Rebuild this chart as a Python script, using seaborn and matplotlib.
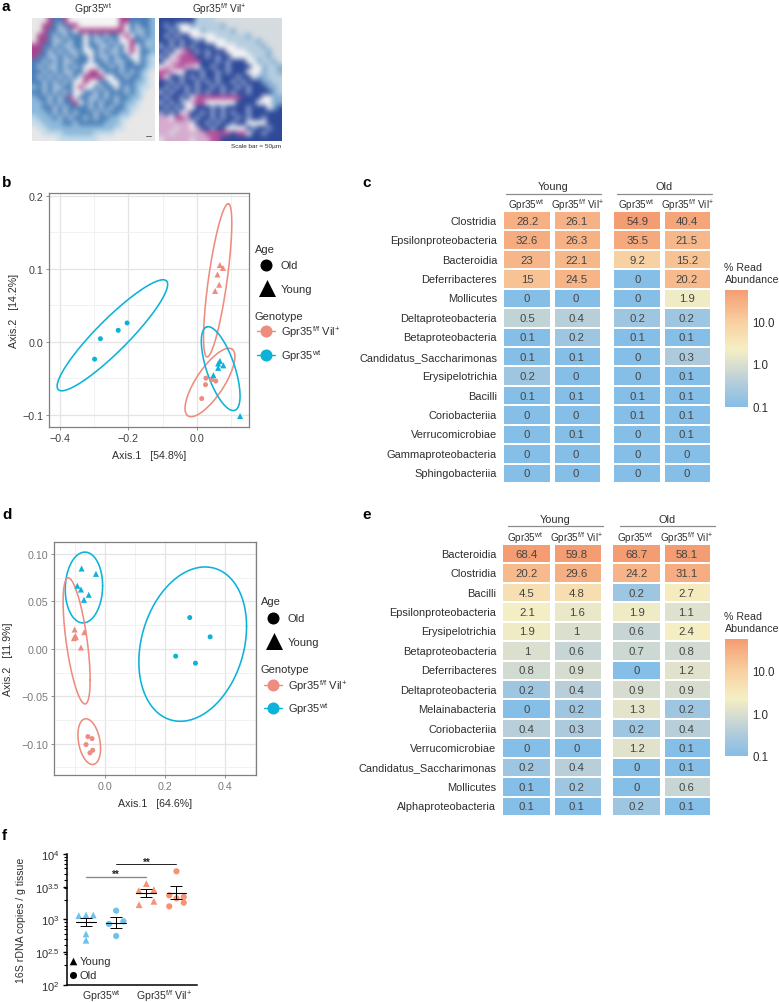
import numpy as np, pandas as pd
import matplotlib
matplotlib.use("Agg")
import matplotlib.pyplot as plt
from matplotlib.colors import LinearSegmentedColormap, LogNorm
from matplotlib.ticker import LogLocator, NullFormatter
import seaborn as sns

sns.set_theme(style="white")
plt.rcParams['font.family'] = ['Liberation Sans', 'DejaVu Sans']
plt.rcParams['mathtext.default'] = 'regular'

W, H = 779, 1003
WT = "Gpr35$^{wt}$"
FF = "Gpr35$^{f/f}$ Vil$^{+}$"
RED, BLUE = "#EE8C80", "#0BB2DA"
TXT = "#2E2E2E"

# ---- panel a: tone maps of the two micrographs
img_wt = """WWWPBBPwwwwwwwwwwPPBBBBL
WWPPBCBPPwwwwwwwwPwBCBBL
WWPBBCCBwPPPPPPPPPwBCCBL
WPPBCBCBBBwBCBCBBwPwBCBL
WPPBCCBCBBwBCCBCBwwPBBCL
PPBBCBCCBBwBBCCBCBwPwBCL
PPBCBCBCCBwwBCBCCBwPwBBL
PBBCCBCBCBBwBCCBCBBwwBLS
BBCBCBCCBBBwBBCBCCBBwBLS
BCBCCBCBCBwwwBBCBCBBBBLS
BBCBCBCCBBwPPwBBBCBCBLSW
BCBCBCBCBwPPPPwwBBCBBLSW
BBCBCBCBwwPwwBBwwBBBLLSW
LBCBCCBBwPwwBCBBwBCBLSSW
BBCBCBCBwwBBCBCBBBCBLSWW
LBBCBCBPwBBCCBCBCBBLLSWW
LLBCBCBBPwBCBCBBCBLLSWWW
LLBBCBCBBBBCBCBCBBLSSWWW
LLLBCBCBCBBBCBCBBLLSWWWW
SLLLBCBCBBCBCBBLLSSWWWWW
SSLLLLBBCBBBBBLLLSWWWWWW
WSSLLLLLLLLLLLLLSSWWWWWW
WWSSSSLLLLLLSSSSWWWWWWWW
WWWWWSSSSSSSSWWWWWWWWWWW"""
img_ko = """DDDDDDDSSSSGGGGGGGGGGGGG
DCDLwwLSSSSSLGGGGGGGGGGG
DDCDwwwwLSSSSSLGGGGGGGGG
DCDCDDwwwwwSSSSSSLGGGGGG
DDCDCDDCDwwwwSSSSSSLGGGG
CDCDCDCDDDDwwwwSSSSSLGGG
DCDwpPDCDCDDDwwwwSSSSLGG
CDwpPPPDDCDCDDwwwwSSSLGG
DwppPPPPDDDCDCDDDwwLSSLG
wppPPppwDDCDDCDDDDwwLSSL
PPpwwDDDCDDCDCDDDwwwLSSL
PwDDCDCDCDDCDDDCDDwLLSSS
DDCDCDDCDCDCDDCDCDDDLLSS
DCDCDCDCDDCDCDDCDCDDDLLS
CDCDDCDCDCDDCDCDDCDDDDLS
DCDDCDwPPPPPPPPPDDDDwwLL
CDCDCwpPPwwwwwwDDDDwwwLL
DCDCDwwDDDCDCDDDDCDDDwLD
CDCDwpDDCDCDCDCDDCDDDDDD
ppwPPpDCDDCDCDDCDCDDCDDD
ppppppwDDCDCDDCDDwwwwDDD
pppGppwpDDCDDwwwwDCDDCDD
ppGppppppPPPPPDPPwDDCDDD
GpppppGpppPPDDDDDDDDDDDD"""
tones_wt = dict(W="#E8E8E8", w="#F6F6F6", L="#8DB9DB", S="#C4DBEA", B="#4B7FB7", C="#A6C1DD", P="#A8458D")
tones_ko = dict(G="#D6DCDF", S="#B6CEE0", L="#84ADD1", D="#2E4A99", C="#8A9ECD", P="#B5519B", p="#D6ABCF", w="#F2F2F4")

# ---- panel b
b_x_old_wt = [-0.299, -0.282, -0.230, -0.204]
b_y_old_wt = [-0.024, 0.004, 0.0155, 0.0256]
b_x_old_ko = [0.014, 0.025, 0.026, 0.043, 0.055]
b_y_old_ko = [-0.078, -0.059, -0.050, -0.052, -0.054]
b_x_yng_ko = [0.053, 0.065, 0.060, 0.067, 0.076]
b_y_yng_ko = [0.0695, 0.078, 0.092, 0.105, 0.101]
b_x_yng_wt = [0.048, 0.062, 0.067, 0.062, 0.077, 0.126]
b_y_yng_wt = [-0.046, -0.036, -0.0265, -0.030, -0.0325, -0.102]
# ellipse: centre x, centre y, vector u, vector v, colour
b_ell = [(-0.247, 0.0087, 0.158, 0.0745, 0.033, -0.0155, BLUE),
         (0.0605, 0.084, 0.0312, 0.105, 0.027, -0.0018, RED),
         (0.038, -0.056, 0.0644, 0.0457, 0.034, -0.0105, RED),
         (0.0693, -0.037, -0.041, 0.0572, 0.039, 0.006, BLUE)]

# ---- panel d
d_x_old_wt = [0.284, 0.352, 0.237, 0.303]
d_y_old_wt = [0.033, 0.0127, -0.0077, -0.0151]
d_x_yng_wt = [-0.077, -0.029, -0.091, -0.079, -0.053, -0.069]
d_y_yng_wt = [0.0847, 0.0791, 0.0665, 0.0626, 0.057, 0.0517]
d_x_yng_ko = [-0.100, -0.068, -0.098, -0.1025, -0.096, -0.079]
d_y_yng_ko = [0.0204, 0.0176, 0.0137, 0.0113, 0.0123, 0.0014]
d_x_old_ko = [-0.056, -0.042, -0.062, -0.040, -0.049]
d_y_old_ko = [-0.0925, -0.0946, -0.1009, -0.1069, -0.1097]
d_ell = [(0.2938, 0.005, 0.1797, 0.0187, 0, 0.0792, BLUE),
         (-0.0691, 0.0647, 0.0623, 0.0019, 0, 0.0373, BLUE),
         (-0.0935, 0.0084, 0.0451, -0.0412, 0, 0.0522, RED),
         (-0.0514, -0.0978, 0.0378, -0.007, 0, 0.0231, RED)]

# ---- panel c
c_rows = ["Clostridia", "Epsilonproteobacteria", "Bacteroidia", "Deferribacteres", "Mollicutes",
          "Deltaproteobacteria", "Betaproteobacteria", "Candidatus_Saccharimonas", "Erysipelotrichia",
          "Bacilli", "Coriobacteriia", "Verrucomicrobiae", "Gammaproteobacteria", "Sphingobacteriia"]
c_young_wt = [28.2, 32.6, 23, 15, 0, 0.5, 0.1, 0.1, 0.2, 0.1, 0, 0, 0, 0]
c_young_ko = [26.1, 26.3, 22.1, 24.5, 0, 0.4, 0.2, 0.1, 0, 0.1, 0, 0.1, 0, 0]
c_old_wt = [54.9, 35.5, 9.2, 0, 0, 0.2, 0.1, 0, 0, 0.1, 0.1, 0, 0, 0]
c_old_ko = [40.4, 21.5, 15.2, 20.2, 1.9, 0.2, 0.1, 0.3, 0.1, 0.1, 0.1, 0.1, 0, 0]

# ---- panel e
e_rows = ["Bacteroidia", "Clostridia", "Bacilli", "Epsilonproteobacteria", "Erysipelotrichia",
          "Betaproteobacteria", "Deferribacteres", "Deltaproteobacteria", "Melainabacteria",
          "Coriobacteriia", "Verrucomicrobiae", "Candidatus_Saccharimonas", "Mollicutes", "Alphaproteobacteria"]
e_young_wt = [68.4, 20.2, 4.5, 2.1, 1.9, 1, 0.8, 0.2, 0, 0.4, 0, 0.2, 0.1, 0.1]
e_young_ko = [59.8, 29.6, 4.8, 1.6, 1, 0.6, 0.9, 0.4, 0.2, 0.3, 0, 0.4, 0.2, 0.1]
e_old_wt = [68.7, 24.2, 0.2, 1.9, 0.6, 0.7, 0, 0.9, 1.3, 0.2, 1.2, 0, 0, 0.2]
e_old_ko = [58.1, 31.1, 2.7, 1.1, 2.4, 0.8, 1.2, 0.9, 0.2, 0.4, 0.1, 0.1, 0.6, 0.1]

# ---- panel f (log10 copies)
f_young_wt = [3.056, 3.066, 3.066, 2.776, 2.68]
f_old_wt = [3.133, 2.929, 2.97, 2.745]
f_young_ko = [3.546, 3.439, 3.454, 3.224, 3.276]
f_old_ko = [3.735, 3.367, 3.321, 3.342, 3.199, 3.255]
f_young_wt_pos = [-0.24, 0, 0.24, 0, 0]
f_old_wt_pos = [1, 0.76, 1.24, 1]
f_young_ko_pos = [2, 1.75, 2.25, 1.76, 2.25]
f_old_ko_pos = [3, 2.76, 3, 3.24, 2.76, 3.24]
f_mean = [2.954, 2.95, 3.40, 3.41]
f_low = [2.893, 2.87, 3.34, 3.31]
f_high = [3.015, 3.03, 3.46, 3.51]

fig = plt.figure(figsize=(W / 100, H / 100), dpi=100, facecolor="white")


def add_ax(x0, y0, x1, y1, **kw):
    return fig.add_axes([x0 / W, 1 - y1 / H, (x1 - x0) / W, (y1 - y0) / H], **kw)


ov = add_ax(0, 0, W, H, zorder=20)
ov.set_xlim(0, W)
ov.set_ylim(H, 0)
ov.axis("off")
ov.patch.set_alpha(0)


def T(x, y, s, size=7.6, ha="left", va="center", color=TXT, **kw):
    ov.text(x, y, s, fontsize=size, ha=ha, va=va, color=color, **kw)


# panel letters
for (lx, ly, s) in [(2, 7, "a"), (2, 183, "b"), (362, 183, "c"), (2, 515, "d"), (362, 515, "e"), (2, 836, "f")]:
    T(lx, ly, s, size=11, weight="bold", color="black")


# ---- panel a
def micrograph(box, grid, tones):
    rows = grid.split("\n")
    rgb = np.array([[matplotlib.colors.to_rgb(tones[c]) for c in r] for r in rows])
    ax = add_ax(*box)
    ax.imshow(rgb, interpolation="bicubic", aspect="auto")
    ax.axis("off")


micrograph((32.3, 19.3, 155, 141.7), img_wt, tones_wt)
micrograph((159, 19.3, 281.7, 141.7), img_ko, tones_ko)
T(93, 9, WT, size=7.5, ha="center")
T(219, 9, FF, size=7.3, ha="center")
T(281.5, 146.5, "Scale bar = 50µm", size=4.6, ha="right")
ov.plot([146.5, 151.5], [137, 137], color="#666666", lw=0.7)


# ---- ordination panels
def ordination(box, xlim, ylim, xmaj, xmin, ymaj, ymin, ylab_fmt, xlabel, ylabel, groups, ells,
               tick_color, xlab_y, ylab_x, tick_fs=7.7):
    ax = add_ax(*box)
    ax.set_xlim(*xlim)
    ax.set_ylim(*ylim)
    ax.set_xticks(xmaj)
    ax.set_xticks(xmin, minor=True)
    ax.set_yticks(ymaj)
    ax.set_yticks(ymin, minor=True)
    ax.set_xticklabels(["%.1f" % v if v >= 0 else "\u2212%.1f" % -v for v in xmaj])
    ax.set_yticklabels([(ylab_fmt % v if v >= -1e-9 else "\u2212" + ylab_fmt % -v) for v in ymaj])
    ax.set_axisbelow(True)
    ax.grid(True, which="major", color="#E4E4E4", lw=0.9)
    ax.grid(True, which="minor", color="#EFEFEF", lw=0.6)
    frames = []
    for xs, ys, geno, age in groups:
        frames.append(pd.DataFrame({"x": xs, "y": ys, "Genotype": geno, "Age": age}))
    df = pd.concat(frames, ignore_index=True)
    old, yng = df[df.Age == "Old"], df[df.Age == "Young"]
    pal = {"wt": BLUE, "ko": RED}
    sns.scatterplot(data=old, x="x", y="y", hue="Genotype", palette=pal, marker="o", s=13,
                    linewidth=0, legend=False, ax=ax, zorder=3)
    sns.scatterplot(data=yng, x="x", y="y", hue="Genotype", palette=pal, marker="^", s=19,
                    linewidth=0, legend=False, ax=ax, zorder=3)
    t = np.linspace(0, 2 * np.pi, 200)
    for cx, cy, ux, uy, vx, vy, col in ells:
        ax.plot(cx + ux * np.cos(t) + vx * np.sin(t), cy + uy * np.cos(t) + vy * np.sin(t),
                color=col, lw=1.15, zorder=2)
    for s in ax.spines.values():
        s.set_visible(True)
        s.set_color("#7F7F7F")
        s.set_linewidth(0.9)
    ax.tick_params(axis="both", which="major", length=2, width=0.6, color="#7F7F7F",
                   labelsize=tick_fs, labelcolor=tick_color, pad=2, left=True, bottom=True)
    ax.tick_params(axis="both", which="minor", length=0)
    ax.set_xlabel(xlabel, fontsize=7.7, color=TXT, va="center")
    ax.set_ylabel(ylabel, fontsize=7.7, color=TXT, va="center")
    ax.xaxis.set_label_coords(0.5, -(xlab_y - box[3]) / (box[3] - box[1]))
    ax.yaxis.set_label_coords(-(box[0] - ylab_x) / (box[2] - box[0]), 0.5)
    return ax


ordination((48.7, 194, 249, 428), (-0.433, 0.152), (-0.117, 0.2037),
           [-0.4, -0.2, 0.0], [-0.3, -0.1, 0.1], [-0.1, 0.0, 0.1, 0.2], [-0.05, 0.05, 0.15], "%.1f",
           "Axis.1   [54.8%]", "Axis.2   [14.2%]",
           [(b_x_old_wt, b_y_old_wt, "wt", "Old"), (b_x_old_ko, b_y_old_ko, "ko", "Old"),
            (b_x_yng_ko, b_y_yng_ko, "ko", "Young"), (b_x_yng_wt, b_y_yng_wt, "wt", "Young")],
           b_ell, "#404040", 456, 14)
ordination((54.3, 542.7, 256, 776), (-0.168, 0.505), (-0.133, 0.113),
           [0.0, 0.2, 0.4], [-0.1, 0.1, 0.3, 0.5], [-0.10, -0.05, 0.00, 0.05, 0.10],
           [-0.125, -0.075, -0.025, 0.025, 0.075], "%.2f",
           "Axis.1   [64.6%]", "Axis.2   [11.9%]",
           [(d_x_old_wt, d_y_old_wt, "wt", "Old"), (d_x_yng_wt, d_y_yng_wt, "wt", "Young"),
            (d_x_yng_ko, d_y_yng_ko, "ko", "Young"), (d_x_old_ko, d_y_old_ko, "ko", "Old")],
           d_ell, "#7A7A7A", 804, 8)


def ord_legend(xt, xm, ys):
    T(xt, ys[0], "Age", size=8)
    ov.scatter([xm], [ys[1]], marker="o", s=75, color="black", linewidth=0)
    T(xm + 15, ys[1], "Old", size=8)
    ov.scatter([xm + 1], [ys[2] - 1], marker="^", s=150, color="black", linewidth=0)
    T(xm + 15, ys[2], "Young", size=8)
    T(xt, ys[3], "Genotype", size=8)
    for yy, col, lab in [(ys[4], RED, FF), (ys[5], BLUE, WT)]:
        ov.plot([xm - 9, xm + 9], [yy, yy], color=col, lw=1)
        ov.scatter([xm], [yy], marker="o", s=75, color=col, linewidth=0)
        T(xm + 15, yy, lab, size=8)


ord_legend(255, 266, [250, 266, 290, 317, 332, 356])
ord_legend(261, 273, [602, 619, 643, 670, 686, 709])

# ---- heatmaps
cmap = LinearSegmentedColormap.from_list("abund", [
    ((-1 + 1) / 2.74, "#85BEE6"), ((-0.5 + 1) / 2.74, "#AFCBDC"), ((0 + 1) / 2.74, "#DADFCE"),
    ((0.35 + 1) / 2.74, "#F5EFC3"), ((1 + 1) / 2.74, "#F8CFA0"), (1.0, "#F49C72")])
norm = LogNorm(vmin=0.1, vmax=54.9, clip=True)


def heat_block(box, rows, col1, col2, show_rows, cbar_box=None):
    vals = np.column_stack([col1, col2]).astype(float)
    ann = np.array([["%g" % v for v in r] for r in vals])
    ax = add_ax(*box)
    if cbar_box is not None:
        kw = dict(cbar=True, cbar_ax=add_ax(*cbar_box), cbar_kws={"ticks": [0.1, 1, 10]})
    else:
        kw = dict(cbar=False)
    sns.heatmap(np.clip(vals, 0.1, None), ax=ax, cmap=cmap, norm=norm, annot=ann, fmt="",
                annot_kws={"fontsize": 8.2, "color": "#454545"}, linewidths=1.1, linecolor="white",
                xticklabels=False, yticklabels=rows if show_rows else False, **kw)
    ax.axvline(1, color="white", lw=3.6)
    ax.tick_params(axis="y", length=0, pad=4, labelsize=7.9, labelcolor=TXT, labelrotation=0)
    if cbar_box is not None:
        cb = ax.collections[0].colorbar
        cb.outline.set_visible(False)
        cb.ax.minorticks_off()
        cb.set_ticks([0.1, 1, 10])
        cb.set_ticklabels(["0.1", "1.0", "10.0"])
        cb.ax.tick_params(length=2.5, width=0.7, direction="in", color="white",
                          labelsize=8.3, labelcolor=TXT, pad=3)
    return ax


def heat_panel(rows, data, top, bot, yb, xs, lines, hdr_y, line_y, lab_y, centres, title_y):
    heat_block((xs[0], top, xs[1], bot), rows, data[0], data[1], True,
               cbar_box=(725, yb[0], 748.3, yb[1]))
    heat_block((xs[2], top, xs[3], bot), rows, data[2], data[3], False)
    for (x0, x1), name in zip(lines, ["Young", "Old"]):
        ov.plot([x0, x1], [line_y, line_y], color="#8C8C8C", lw=0.9)
        T((x0 + x1) / 2, hdr_y, name, ha="center", size=7.9)
    for c, lab in zip(centres, [WT, FF, WT, FF]):
        T(c, lab_y, lab, ha="center", size=7.1)
    T(724.5, title_y[0], "% Read", size=7.7)
    T(724.5, title_y[1], "Abundance", size=7.7)


heat_panel(c_rows, (c_young_wt, c_young_ko, c_old_wt, c_old_ko), 212, 484, (290.7, 407.7),
           (502.6, 600.7, 612.6, 711.4), [(506, 601), (617, 712)], 187, 195, 205.5,
           (526, 578, 636, 688), (267.7, 280))
heat_panel(e_rows, (e_young_wt, e_young_ko, e_old_wt, e_old_ko), 545, 817, (640, 756.7),
           (502, 601.7, 611.6, 711.4), [(508, 603), (620, 715)], 520, 527, 538,
           (525, 577, 635, 687), (617, 629))

# ---- panel f
ax = add_ax(66.7, 855, 196.7, 985.7)
FB, FR = "#6EC2EB", "#F59374"
frames = [pd.DataFrame({"x": p, "y": 10 ** np.array(v), "g": g, "a": a}) for p, v, g, a in [
    (f_young_wt_pos, f_young_wt, "wt", "Young"), (f_old_wt_pos, f_old_wt, "wt", "Old"),
    (f_young_ko_pos, f_young_ko, "ko", "Young"), (f_old_ko_pos, f_old_ko, "ko", "Old")]]
df = pd.concat(frames, ignore_index=True)
sns.scatterplot(data=df[df.a == "Young"], x="x", y="y", hue="g", palette={"wt": FB, "ko": FR}, marker="^",
                s=24, linewidth=0, legend=False, ax=ax, zorder=3, clip_on=False)
sns.scatterplot(data=df[df.a == "Old"], x="x", y="y", hue="g", palette={"wt": FB, "ko": FR}, marker="o",
                s=20, linewidth=0, legend=False, ax=ax, zorder=3, clip_on=False)
ax.set_yscale("log")
ax.set_xlim(-0.64, 3.67)
ax.set_ylim(1e2, 1e4)
for i in range(4):
    m, lo, hi = 10 ** f_mean[i], 10 ** f_low[i], 10 ** f_high[i]
    ax.errorbar([i], [m], yerr=[[m - lo], [hi - m]], color="black", lw=0.7, capsize=4.3, capthick=0.7, zorder=4)
    ax.plot([i - 0.33, i + 0.33], [m, m], color="black", lw=0.8, zorder=4)
ax.plot([0, 2], [10 ** 3.653] * 2, color="#8A8A8A", lw=1.0)
ax.plot([1, 3], [10 ** 3.847] * 2, color="#222222", lw=0.7)
ax.text(1, 10 ** 3.69, "**", ha="center", va="center", fontsize=7, weight="bold", color="#222222")
ax.text(2, 10 ** 3.885, "**", ha="center", va="center", fontsize=7, weight="bold", color="#222222")
ax.set_yticks([10 ** e for e in (2, 2.5, 3, 3.5, 4)])
ax.set_yticklabels(["$10^{2}$", "$10^{2.5}$", "$10^{3}$", "$10^{3.5}$", "$10^{4}$"])
ax.yaxis.set_minor_locator(LogLocator(base=10, subs=np.arange(2, 10), numticks=10))
ax.yaxis.set_minor_formatter(NullFormatter())
ax.set_xticks([0.49, 2.58])
ax.set_xticklabels([WT, FF])
ax.tick_params(axis="x", length=0, labelsize=7.6, pad=2, labelcolor=TXT)
ax.tick_params(axis="y", which="major", length=3.2, width=1, left=True, color="black", labelsize=8, pad=2,
               labelcolor=TXT)
ax.tick_params(axis="y", which="minor", length=2, width=0.8, left=True, color="black")
ax.set_xlabel("")
ax.set_ylabel("16S rDNA copies / g tissue", fontsize=7.6, color=TXT, va="center")
ax.yaxis.set_label_coords(-(66.7 - 20.7) / 130, 0.5)
for s in ("top", "right"):
    ax.spines[s].set_visible(False)
for s in ("left", "bottom"):
    ax.spines[s].set_visible(True)
    ax.spines[s].set_color("black")
    ax.spines[s].set_linewidth(1.1)
ax.patch.set_alpha(0)
ov.scatter([73], [962], marker="^", s=30, color="black", linewidth=0)
T(80, 962, "Young", size=8)
ov.scatter([73], [975.7], marker="o", s=26, color="black", linewidth=0)
T(80, 975.7, "Old", size=8)

fig.savefig("out.png", dpi=100, facecolor="white")
